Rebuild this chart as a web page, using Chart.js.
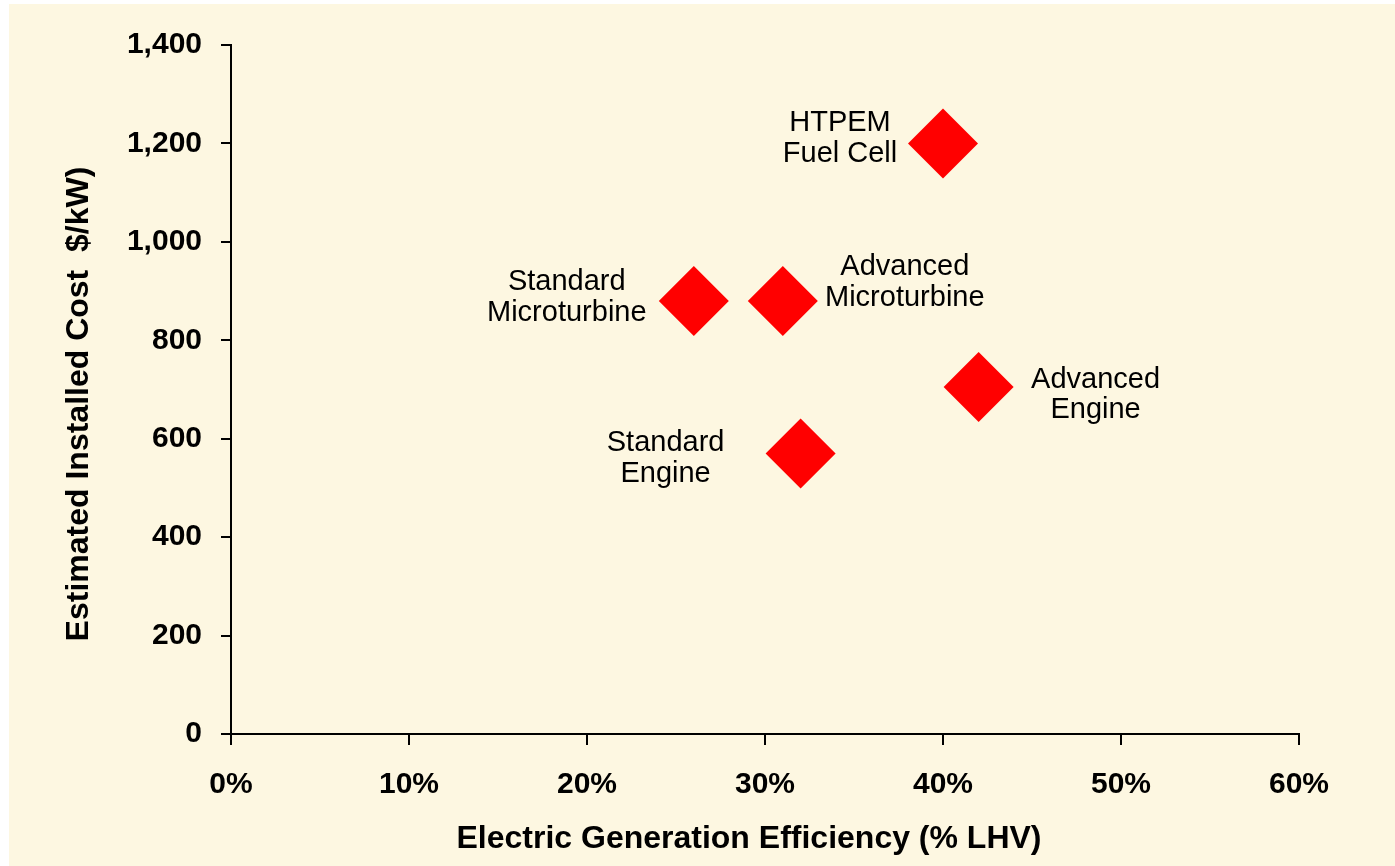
<!DOCTYPE html>
<html>
<head>
<meta charset="utf-8">
<script src="https://cdn.jsdelivr.net/npm/chart.js"></script>
<style>
  html, body { margin: 0; padding: 0; background: #fff; }
  canvas { display: block; }
</style>
</head>
<body>
<canvas id="costChart" width="1395" height="866"></canvas>
<script>
// chart data
const technologies = [
  ['HTPEM', 'Fuel Cell'],
  ['Standard', 'Microturbine'],
  ['Advanced', 'Microturbine'],
  ['Advanced', 'Engine'],
  ['Standard', 'Engine']
];
const efficiencyPct = [40, 26, 31, 42, 32];
const installedCost = [1200, 880, 880, 705, 570];
const xTickValues = [0, 10, 20, 30, 40, 50, 60];
const yTickValues = [0, 200, 400, 600, 800, 1000, 1200, 1400];

// where each label sits relative to its diamond (px)
const labelPlacement = [
  { dx: -103, dy: [-20, 11] },
  { dx: -127, dy: [-19, 12] },
  { dx: 122, dy: [-34, -3] },
  { dx: 117, dy: [-7, 23] },
  { dx: -135, dy: [-10, 21] }
];

const FONT = '"Liberation Sans", Arial, sans-serif';

const backgroundPlugin = {
  id: 'creamBackground',
  beforeDraw(chart) {
    const ctx = chart.ctx;
    ctx.save();
    ctx.fillStyle = '#ffffff';
    ctx.fillRect(0, 0, chart.width, chart.height);
    ctx.fillStyle = '#FDF7E1';
    ctx.fillRect(9, 4, chart.width - 9, chart.height - 4);
    ctx.restore();
  }
};

const pointLabelPlugin = {
  id: 'pointLabels',
  afterDatasetsDraw(chart) {
    const ctx = chart.ctx;
    const meta = chart.getDatasetMeta(0);
    ctx.save();
    ctx.font = '29px ' + FONT;
    ctx.fillStyle = '#000';
    ctx.textAlign = 'center';
    ctx.textBaseline = 'middle';
    meta.data.forEach((pt, i) => {
      const place = labelPlacement[i];
      technologies[i].forEach((line, j) => {
        ctx.fillText(line, pt.x + place.dx, pt.y + place.dy[j]);
      });
    });
    ctx.restore();
  }
};

const axisTitlePlugin = {
  id: 'axisTitles',
  afterDraw(chart) {
    const ctx = chart.ctx;
    ctx.save();
    ctx.font = 'bold 32px ' + FONT;
    ctx.fillStyle = '#000';
    ctx.textAlign = 'center';
    ctx.textBaseline = 'middle';
    ctx.fillText('Electric Generation Efficiency (% LHV)', 749, 839);
    ctx.translate(79, 404);
    ctx.rotate(-Math.PI / 2);
    ctx.fillText('Estimated Installed Cost  $/kW)', 0, 0);
    ctx.restore();
  }
};

const ctx = document.getElementById('costChart').getContext('2d');
new Chart(ctx, {
  type: 'scatter',
  data: {
    datasets: [{
      data: efficiencyPct.map((x, i) => ({ x: x, y: installedCost[i] })),
      pointStyle: 'rectRot',
      pointRadius: 35,
      pointHoverRadius: 35,
      pointBackgroundColor: '#FF0000',
      pointBorderWidth: 0,
      borderWidth: 0
    }]
  },
  options: {
    responsive: false,
    devicePixelRatio: 1,
    animation: false,
    layout: { padding: { left: 0, top: 45, right: 96, bottom: 0 } },
    plugins: {
      legend: { display: false },
      tooltip: { enabled: false }
    },
    scales: {
      x: {
        type: 'linear',
        min: 0,
        max: 60,
        afterBuildTicks: (s) => { s.ticks = xTickValues.map(v => ({ value: v })); },
        afterFit: (s) => { s.height = 132; s.paddingLeft = 0; s.paddingRight = 0; },
        ticks: {
          callback: (v) => v + '%',
          color: '#000',
          font: { family: FONT, size: 30, weight: 'bold' },
          padding: 22,
          maxRotation: 0,
          autoSkip: false
        },
        grid: { drawOnChartArea: false, drawTicks: true, tickLength: 11, color: '#000', lineWidth: 2 },
        border: { color: '#000', width: 2 }
      },
      y: {
        type: 'linear',
        min: 0,
        max: 1400,
        afterBuildTicks: (s) => { s.ticks = yTickValues.map(v => ({ value: v })); },
        afterFit: (s) => { s.width = 231; s.paddingTop = 0; s.paddingBottom = 0; },
        ticks: {
          callback: (v) => v.toLocaleString('en-US'),
          color: '#000',
          font: { family: FONT, size: 30, weight: 'bold' },
          padding: 19,
          autoSkip: false
        },
        grid: { drawOnChartArea: false, drawTicks: true, tickLength: 10, color: '#000', lineWidth: 2 },
        border: { color: '#000', width: 2 }
      }
    }
  },
  plugins: [backgroundPlugin, pointLabelPlugin, axisTitlePlugin]
});
</script>
</body>
</html>
